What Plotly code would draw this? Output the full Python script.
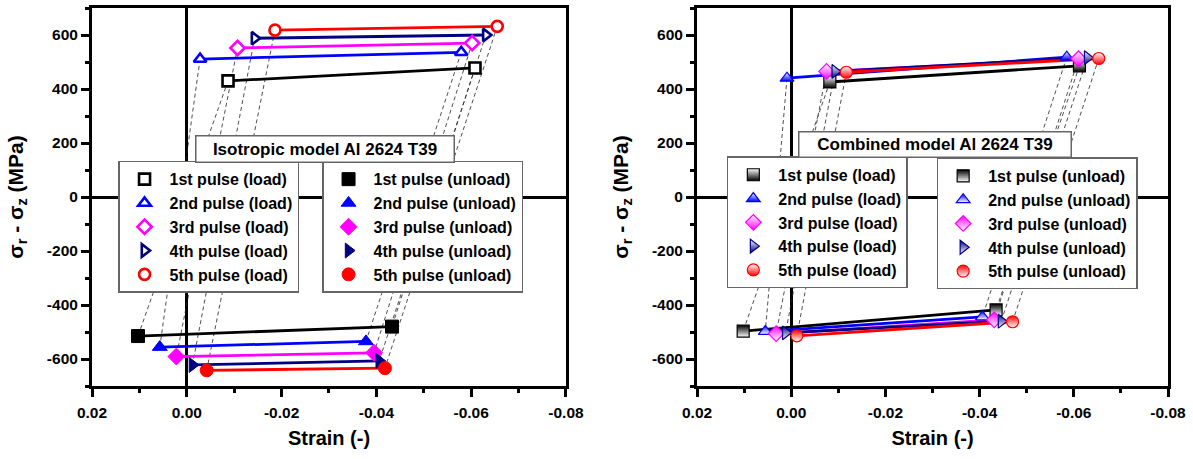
import plotly.graph_objects as go

pulse_names = ['1st', '2nd', '3rd', '4th', '5th']
colors = ['#000000', '#0000FF', '#FF00FF', '#000080', '#FF0000']
symbols = ['square', 'triangle-up', 'diamond', 'triangle-right', 'circle']

# Isotropic model Al 2624 T39 (left panel)
iso_load_start_x = [-0.0087, -0.0028, -0.0107, -0.0143, -0.0186]
iso_load_start_y = [430, 511, 552, 588, 618]
iso_load_end_x = [-0.0608, -0.0579, -0.0602, -0.0631, -0.0655]
iso_load_end_y = [478, 536, 570, 600, 632]
iso_unload_start_x = [0.0103, 0.0057, 0.0022, -0.0012, -0.0042]
iso_unload_start_y = [-515, -556, -591, -622, -642]
iso_unload_end_x = [-0.0433, -0.0378, -0.0395, -0.0406, -0.0418]
iso_unload_end_y = [-480, -535, -577, -607, -634]

# Combined model Al 2624 T39 (right panel)
com_load_start_x = [-0.0082, 0.0009, -0.0075, -0.0093, -0.0117]
com_load_start_y = [426, 440, 465, 465, 462]
com_load_end_x = [-0.0612, -0.0585, -0.0610, -0.0629, -0.0653]
com_load_end_y = [486, 518, 512, 516, 513]
com_unload_start_x = [0.0102, 0.0055, 0.0032, 0.0012, -0.0012]
com_unload_start_y = [-497, -498, -506, -503, -514]
com_unload_end_x = [-0.0435, -0.0406, -0.0431, -0.0446, -0.0470]
com_unload_end_y = [-418, -444, -455, -460, -462]

x_tick_vals = [0.02, 0.00, -0.02, -0.04, -0.06, -0.08]
x_tick_text = ['0.02', '0.00', '-0.02', '-0.04', '-0.06', '-0.08']
x_minor_vals = [0.01, -0.01, -0.03, -0.05, -0.07]
y_tick_vals = [-600, -400, -200, 0, 200, 400, 600]
y_tick_text = ['-600', '-400', '-200', '0', '200', '400', '600']
y_minor_vals = [-700, -500, -300, -100, 100, 300, 500, 700]

panel_titles = ['Isotropic model Al 2624 T39', 'Combined model Al 2624 T39']

FONT = 'Liberation Sans'
fig = go.Figure()


def add_panel(xa, ya, ls_x, ls_y, le_x, le_y, us_x, us_y, ue_x, ue_y,
              leg_load, leg_unload, half):
    # dashed elastic lines
    dx, dy = [], []
    for i in range(len(ls_x)):
        dx += [ls_x[i], us_x[i], None, le_x[i], ue_x[i], None]
        dy += [ls_y[i], us_y[i], None, le_y[i], ue_y[i], None]
    fig.add_trace(go.Scatter(x=dx, y=dy, mode='lines', xaxis=xa, yaxis=ya,
                             line=dict(color='#222222', width=0.8, dash='4px,3px'),
                             showlegend=False, hoverinfo='skip'))
    # solid lines
    for i in range(len(ls_x)):
        fig.add_trace(go.Scatter(x=[ls_x[i], le_x[i]], y=[ls_y[i], le_y[i]], mode='lines',
                                 xaxis=xa, yaxis=ya, line=dict(color=colors[i], width=2.8),
                                 showlegend=False, hoverinfo='skip'))
        fig.add_trace(go.Scatter(x=[us_x[i], ue_x[i]], y=[us_y[i], ue_y[i]], mode='lines',
                                 xaxis=xa, yaxis=ya, line=dict(color=colors[i], width=2.8),
                                 showlegend=False, hoverinfo='skip'))
    # load markers
    for i in range(len(ls_x)):
        if half:
            mk = dict(symbol=symbols[i], size=12, color='white',
                      line=dict(color=colors[i], width=1.2),
                      gradient=dict(type='vertical', color=colors[i]))
        else:
            mk = dict(symbol=symbols[i], size=11, color='white',
                      line=dict(color=colors[i], width=2.6))
        fig.add_trace(go.Scatter(x=[ls_x[i], le_x[i]], y=[ls_y[i], le_y[i]], mode='markers',
                                 xaxis=xa, yaxis=ya, marker=mk, legend=leg_load,
                                 name=f'{pulse_names[i]} pulse (load)'))
    # unload markers
    for i in range(len(ls_x)):
        if half:
            mk = dict(symbol=symbols[i], size=12, color=colors[i],
                      line=dict(color=colors[i], width=1.2),
                      gradient=dict(type='vertical', color='white'))
        else:
            mk = dict(symbol=symbols[i], size=13, color=colors[i],
                      line=dict(color=colors[i], width=1))
        fig.add_trace(go.Scatter(x=[us_x[i], ue_x[i]], y=[us_y[i], ue_y[i]], mode='markers',
                                 xaxis=xa, yaxis=ya, marker=mk, legend=leg_unload,
                                 name=f'{pulse_names[i]} pulse (unload)'))


add_panel('x', 'y', iso_load_start_x, iso_load_start_y, iso_load_end_x, iso_load_end_y,
          iso_unload_start_x, iso_unload_start_y, iso_unload_end_x, iso_unload_end_y,
          'legend', 'legend2', False)
add_panel('x2', 'y2', com_load_start_x, com_load_start_y, com_load_end_x, com_load_end_y,
          com_unload_start_x, com_unload_start_y, com_unload_end_x, com_unload_end_y,
          'legend3', 'legend4', True)

tickfont = dict(family=FONT, size=15.5, color='black', weight='bold')
titlefont = dict(family=FONT, size=20, color='black', weight='bold')
ytitlefont = dict(family=FONT, size=21, color='black', weight='bold')

xcommon = dict(range=[0.02, -0.08], tickmode='array', tickvals=x_tick_vals, ticktext=x_tick_text,
               ticks='outside', ticklen=8, tickwidth=2.5, tickcolor='black',
               minor=dict(tickmode='array', tickvals=x_minor_vals, ticks='outside', ticklen=4,
                          tickwidth=2.5, tickcolor='black'),
               showline=True, linewidth=3, linecolor='black', mirror=True,
               showgrid=False, zeroline=True, zerolinewidth=3, zerolinecolor='black',
               tickfont=tickfont, ticklabelstandoff=2,
               title=dict(text='Strain (-)', font=titlefont, standoff=12))
ycommon = dict(range=[-700, 700], tickmode='array', tickvals=y_tick_vals, ticktext=y_tick_text,
               ticks='outside', ticklen=8, tickwidth=2.5, tickcolor='black',
               minor=dict(tickmode='array', tickvals=y_minor_vals, ticks='outside', ticklen=4,
                          tickwidth=2.5, tickcolor='black'),
               showline=True, linewidth=3, linecolor='black', mirror=True,
               showgrid=False, zeroline=True, zerolinewidth=3, zerolinecolor='black',
               tickfont=tickfont,
               title=dict(text='σ<sub>r</sub> - σ<sub>z</sub> (MPa)', font=ytitlefont, standoff=18))

legcommon = dict(bgcolor='white', bordercolor='#666666', borderwidth=1.5,
                 font=dict(family=FONT, size=16, color='black', weight='bold'),
                 xanchor='left', yanchor='middle', itemwidth=40, tracegroupgap=0)

fig.update_layout(
    width=1193, height=459,
    margin=dict(l=92, r=25, t=5, b=73),
    paper_bgcolor='white', plot_bgcolor='white',
    xaxis=dict(domain=[0, 0.4405], anchor='y', **xcommon),
    yaxis=dict(domain=[0, 1], anchor='x', **ycommon),
    xaxis2=dict(domain=[0.5623, 1], anchor='y2', **xcommon),
    yaxis2=dict(domain=[0, 1], anchor='x2', **ycommon),
    legend=dict(x=0.0242, y=0.4213, **legcommon),
    legend2=dict(x=0.2138, y=0.4213, **legcommon),
    legend3=dict(x=0.590, y=0.433, **legcommon),
    legend4=dict(x=0.785, y=0.430, **legcommon),
    showlegend=True,
    annotations=[
        dict(text=panel_titles[0], xref='paper', yref='paper', x=0.217, y=0.626,
             xanchor='center', yanchor='middle', showarrow=False, width=255, height=23,
             bgcolor='white', bordercolor='#666666', borderwidth=1.5, borderpad=1,
             font=dict(family=FONT, size=17, color='black', weight='bold')),
        dict(text=panel_titles[1], xref='paper', yref='paper', x=0.783, y=0.640,
             xanchor='center', yanchor='middle', showarrow=False, width=269, height=22,
             bgcolor='white', bordercolor='#666666', borderwidth=1.5, borderpad=1,
             font=dict(family=FONT, size=17, color='black', weight='bold')),
    ],
)

fig.write_html('out.html', config={'displayModeBar': False},
               post_script="document.body.style.margin='0';")
